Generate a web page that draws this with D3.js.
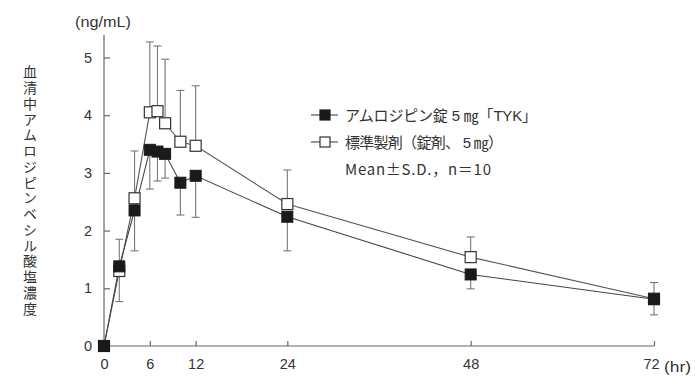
<!DOCTYPE html>
<html><head><meta charset="utf-8">
<script src="https://cdn.jsdelivr.net/npm/d3@7"></script>
<style>
html,body{margin:0;padding:0;background:#fff;}
svg{display:block;}
text{font-family:"Liberation Sans","Noto Sans CJK JP",sans-serif;fill:#333;}
.jp{font-family:"Noto Sans CJK JP","Liberation Sans",sans-serif;}
</style></head>
<body>
<svg id="c" width="695" height="378"></svg>
<script>
const times = [0, 2, 4, 6, 7, 8, 10, 12, 24, 48, 72];
const tykMean = [0, 1.38, 2.35, 3.40, 3.37, 3.33, 2.83, 2.95, 2.24, 1.24, 0.81];
const tykSD = [0, 0.61, 0.70, 0.68, 0.51, 0.42, 0.56, 0.72, 0.59, 0.25, 0.27];
const refMean = [0, 1.30, 2.56, 4.05, 4.07, 3.86, 3.54, 3.47, 2.46, 1.54, 0.82];
const refSD = [0, 0.55, 0.82, 1.22, 1.13, 1.11, 0.89, 1.04, 0.59, 0.35, 0.28];
const xTicks = [0, 6, 12, 24, 48, 72];
const yTicks = [0, 1, 2, 3, 4, 5];
const seriesNames = ["アムロジピン錠 5 ㎎「TYK」", "標準製剤（錠剤、 5 ㎎）"];
const noteText = "Mean±S.D.，n＝10";
const yTitle = "血清中アムロジピンベシル酸塩濃度";
const yUnit = "(ng/mL)";
const xUnit = "(hr)";

const svg = d3.select("#c");
const x = d3.scaleLinear().domain([0, 72]).range([104, 654]);
const y = d3.scaleLinear().domain([0, 5.39]).range([346, 35]);
const axisColor = "#666";

// axes
const gx = svg.append("g").attr("transform", "translate(0,346)")
  .call(d3.axisBottom(x).tickValues(xTicks).tickFormat(d3.format("d")).tickSizeInner(-5).tickSizeOuter(0).tickPadding(13));
const gy = svg.append("g").attr("transform", "translate(104,0)")
  .call(d3.axisLeft(y).tickValues(yTicks).tickFormat(d3.format("d")).tickSizeInner(-6).tickSizeOuter(0).tickPadding(12));
[gx, gy].forEach(g => {
  g.select(".domain").attr("stroke", axisColor).attr("stroke-width", 1.2);
  g.selectAll(".tick line").attr("stroke", axisColor).attr("stroke-width", 1.2);
  g.selectAll(".tick text").attr("font-size", 14.5).attr("fill", "#333")
    .style("font-family", '"Liberation Sans",sans-serif');
});
gx.select(".domain").attr("d", `M${x(0)},0H${x(72)}`);
gy.select(".domain").attr("d", `M0,${y(0)}V${y(5.39)}`);
// the last x label sits slightly left of its tick, as in the reference
gx.selectAll(".tick").filter(d => d === 72).select("text").attr("dx", -3);

svg.append("text").attr("x", 75).attr("y", 27)
  .attr("font-size", 15).attr("textLength", 56).attr("lengthAdjust", "spacingAndGlyphs").text(yUnit);
svg.append("text").attr("x", 664).attr("y", 372)
  .attr("font-size", 15).attr("textLength", 27).attr("lengthAdjust", "spacingAndGlyphs").text(xUnit);

// vertical y title
svg.append("text").attr("class", "jp")
  .attr("x", 30).attr("y", 65)
  .attr("font-size", 14)
  .style("writing-mode", "vertical-rl")
  .style("letter-spacing", "1.75px")
  .text(yTitle);

const line = d3.line().x(d => x(d[0])).y(d => y(d[1]));
const refPts = times.map((t, i) => [t, refMean[i]]);
const tykPts = times.map((t, i) => [t, tykMean[i]]);

svg.append("path").attr("d", line(refPts)).attr("fill", "none")
  .attr("stroke", "#555").attr("stroke-width", 1.1);
svg.append("path").attr("d", line(tykPts)).attr("fill", "none")
  .attr("stroke", "#444").attr("stroke-width", 1.1);

// error bars
const eb = svg.append("g").attr("stroke", "#777").attr("stroke-width", 1.1);
times.forEach((t, i) => {
  if (refSD[i] > 0) {
    const top = y(refMean[i] + refSD[i]);
    eb.append("line").attr("x1", x(t)).attr("x2", x(t)).attr("y1", y(refMean[i])).attr("y2", top);
    eb.append("line").attr("x1", x(t) - 4).attr("x2", x(t) + 4).attr("y1", top).attr("y2", top);
  }
  if (tykSD[i] > 0) {
    const bot = y(tykMean[i] - tykSD[i]);
    eb.append("line").attr("x1", x(t)).attr("x2", x(t)).attr("y1", y(tykMean[i])).attr("y2", bot);
    eb.append("line").attr("x1", x(t) - 4).attr("x2", x(t) + 4).attr("y1", bot).attr("y2", bot);
  }
});

const s = 11;
svg.append("g").selectAll("rect").data(refPts).join("rect")
  .attr("x", d => x(d[0]) - s / 2).attr("y", d => y(d[1]) - s / 2)
  .attr("width", s).attr("height", s).attr("fill", "#fff").attr("stroke", "#333").attr("stroke-width", 1.2);
svg.append("g").selectAll("rect").data(tykPts).join("rect")
  .attr("x", d => x(d[0]) - s / 2).attr("y", d => y(d[1]) - s / 2)
  .attr("width", s).attr("height", s).attr("fill", "#1a1a1a").attr("stroke", "#1a1a1a").attr("stroke-width", 1);

// legend
const lg = svg.append("g");
const rows = [{ y: 115, fill: "#1a1a1a", len: 192 }, { y: 142, fill: "#fff", len: 158 }];
rows.forEach((r, i) => {
  lg.append("line").attr("x1", 311).attr("x2", 338).attr("y1", r.y).attr("y2", r.y)
    .attr("stroke", "#444").attr("stroke-width", 1.1);
  lg.append("rect").attr("x", 325 - 5).attr("y", r.y - 5).attr("width", 10).attr("height", 10)
    .attr("fill", r.fill).attr("stroke", i === 0 ? "#1a1a1a" : "#333").attr("stroke-width", 1.2);
  lg.append("text").attr("x", 345).attr("y", r.y + 6)
    .attr("font-size", 15).attr("textLength", r.len).attr("lengthAdjust", "spacing").text(seriesNames[i]);
});
lg.append("text").attr("class", "jp").attr("x", 345).attr("y", 175)
  .attr("font-size", 15).attr("textLength", 146).attr("lengthAdjust", "spacing").text(noteText);
</script>
</body></html>
